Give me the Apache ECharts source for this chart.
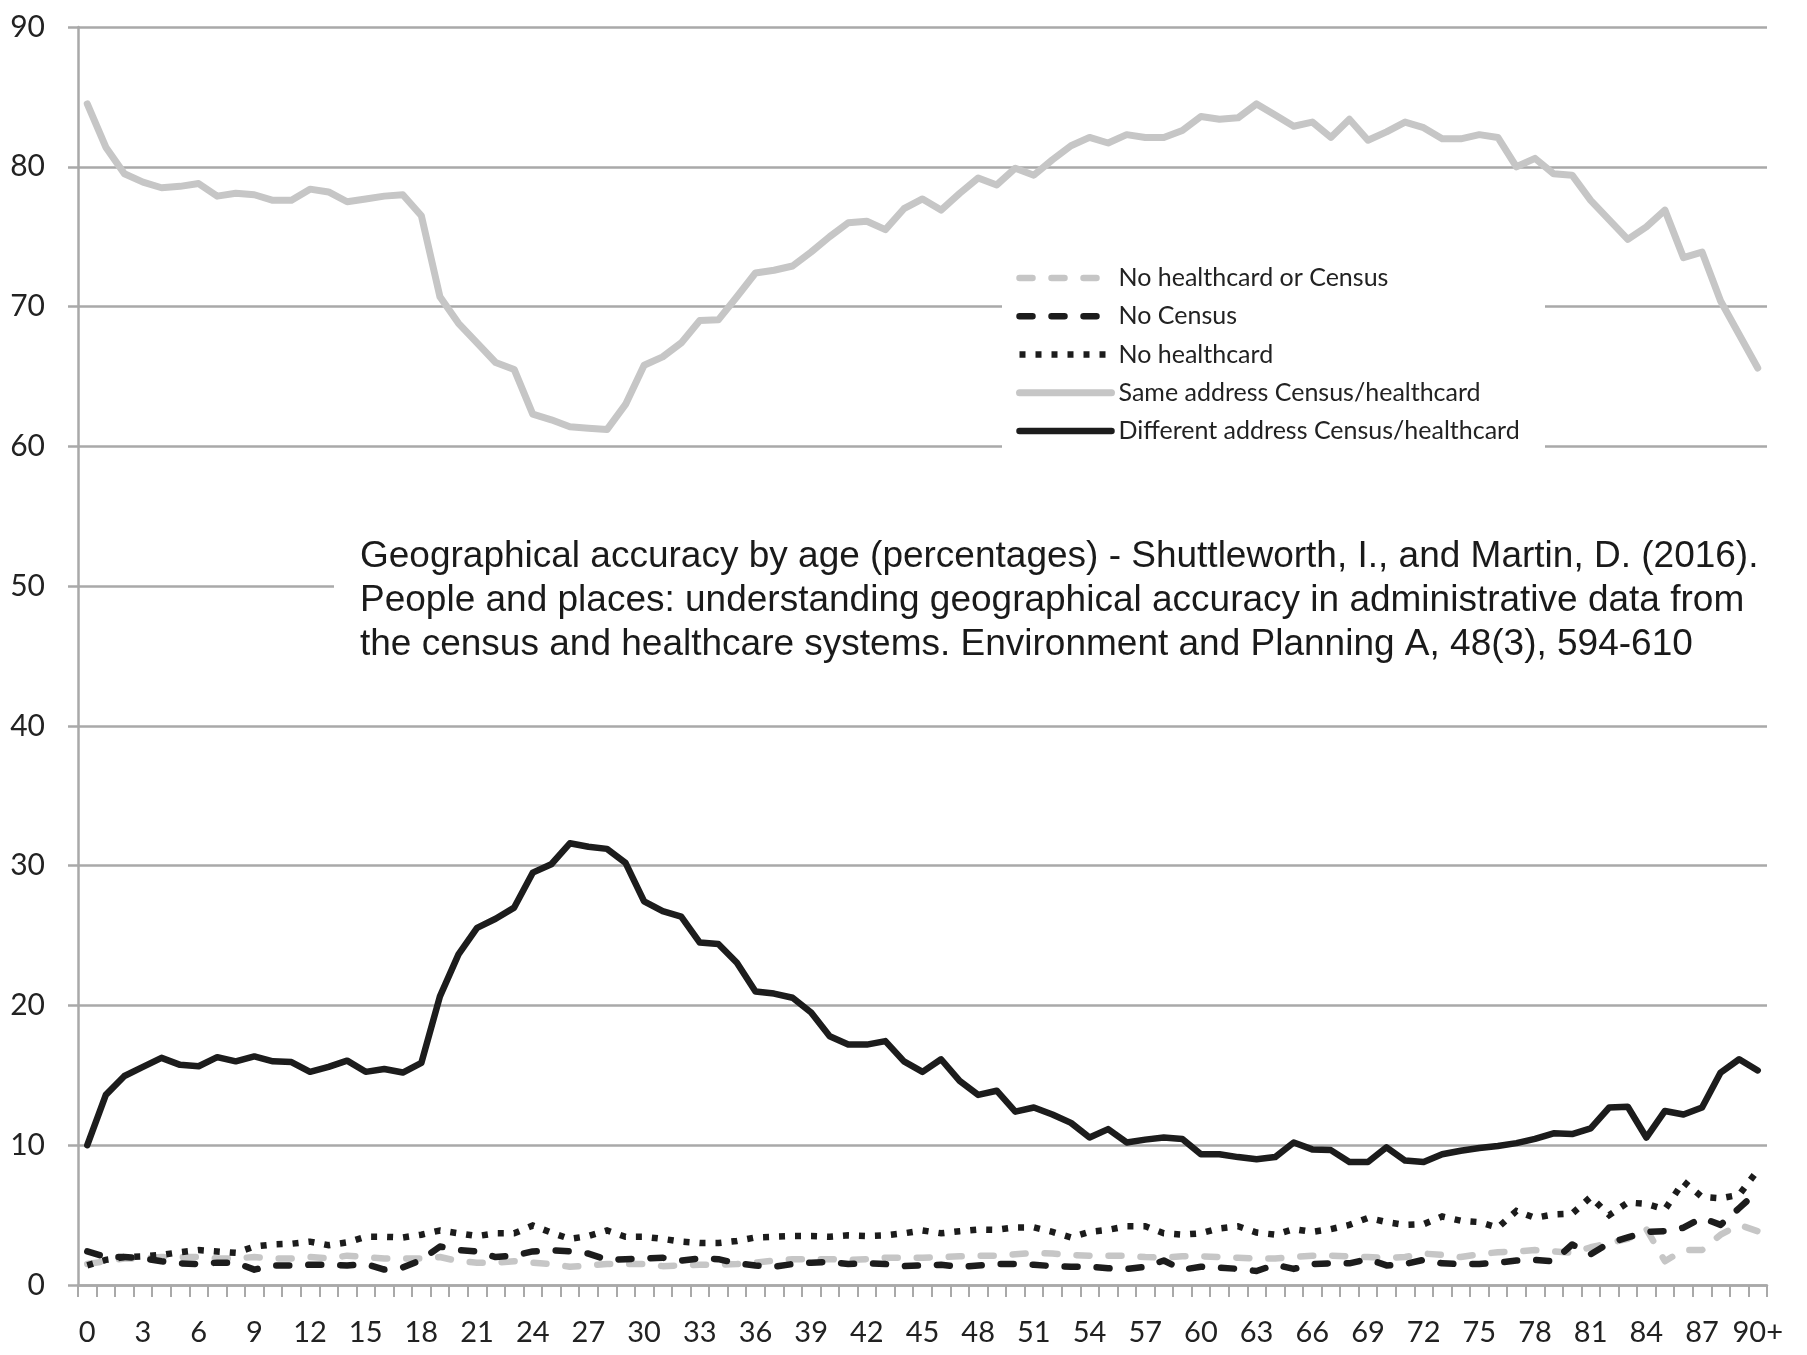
<!DOCTYPE html>
<html>
<head>
<meta charset="utf-8">
<script src="https://cdn.jsdelivr.net/npm/echarts@6/dist/echarts.min.js"></script>
<style>
html,body{margin:0;padding:0;background:#fff;}
#chart{width:1807px;height:1355px;}
</style>
</head>
<body>
<div id="chart"></div>
<script>
var ages = ['0','1','2','3','4','5','6','7','8','9','10','11','12','13','14','15','16','17','18','19',
'20','21','22','23','24','25','26','27','28','29','30','31','32','33','34','35','36','37','38','39',
'40','41','42','43','44','45','46','47','48','49','50','51','52','53','54','55','56','57','58','59',
'60','61','62','63','64','65','66','67','68','69','70','71','72','73','74','75','76','77','78','79',
'80','81','82','83','84','85','86','87','88','89','90+'];

var yTicks = [0, 10, 20, 30, 40, 50, 60, 70, 80, 90];

var noHealthcardOrCensus = [1.5,1.7,1.9,1.9,2.0,2.0,2.0,1.9,1.9,2.0,1.9,1.9,2.0,1.9,2.1,2.0,1.9,1.9,1.9,2.0,
1.7,1.6,1.6,1.7,1.6,1.5,1.3,1.4,1.5,1.5,1.5,1.35,1.4,1.45,1.45,1.5,1.6,1.75,1.85,1.85,
1.85,1.8,1.85,1.95,1.95,1.95,2.0,2.05,2.1,2.1,2.2,2.3,2.25,2.15,2.1,2.1,2.1,2.0,1.95,2.05,
2.05,2.0,1.95,1.9,1.9,2.0,2.1,2.1,2.05,2.0,1.95,2.0,2.25,2.15,2.0,2.2,2.35,2.4,2.5,2.4,
2.3,2.7,3.0,3.3,4.0,1.7,2.5,2.5,3.6,4.3,3.85];

var noCensus = [2.4,2.0,2.0,1.9,1.7,1.55,1.5,1.6,1.6,1.1,1.4,1.4,1.45,1.45,1.4,1.5,1.1,1.25,1.8,2.75,
2.5,2.4,2.0,2.1,2.4,2.5,2.4,2.25,1.8,1.85,1.9,1.95,1.75,1.9,1.85,1.55,1.4,1.3,1.5,1.6,
1.65,1.5,1.55,1.5,1.35,1.4,1.45,1.3,1.4,1.5,1.5,1.45,1.35,1.3,1.3,1.2,1.15,1.3,1.75,1.1,
1.3,1.25,1.15,1.0,1.45,1.15,1.5,1.55,1.55,1.85,1.4,1.5,1.8,1.55,1.5,1.5,1.6,1.75,1.8,1.7,
2.9,2.2,3.0,3.4,3.8,3.85,4.1,4.8,4.3,5.5,6.7];

var noHealthcard = [1.4,1.8,2.0,2.05,2.15,2.35,2.5,2.4,2.3,2.75,2.9,2.95,3.1,2.85,3.05,3.45,3.45,3.4,3.6,3.9,
3.7,3.5,3.7,3.7,4.25,3.75,3.3,3.5,3.9,3.45,3.45,3.3,3.1,3.0,3.0,3.15,3.4,3.45,3.5,3.5,
3.45,3.55,3.5,3.55,3.7,3.9,3.7,3.85,3.97,3.95,4.12,4.12,3.8,3.4,3.8,3.95,4.2,4.2,3.7,3.6,
3.7,4.05,4.2,3.75,3.6,4.0,3.8,4.0,4.3,4.8,4.5,4.3,4.35,4.9,4.6,4.5,4.1,5.3,4.8,5.05,
5.1,6.3,5.0,5.9,5.8,5.4,7.4,6.3,6.2,6.45,8.2];

var sameAddress = [84.5,81.4,79.5,78.9,78.5,78.6,78.8,77.9,78.1,78.0,77.6,77.6,78.4,78.2,77.5,77.7,77.9,78.0,76.5,70.7,
68.8,67.4,66.0,65.5,62.3,61.9,61.4,61.3,61.2,63.0,65.8,66.4,67.4,69.0,69.05,70.7,72.4,72.6,72.9,73.9,
75.0,76.0,76.1,75.5,77.0,77.7,76.9,78.1,79.2,78.7,79.9,79.4,80.5,81.5,82.1,81.7,82.3,82.1,82.1,82.6,
83.6,83.4,83.5,84.5,83.7,82.9,83.2,82.1,83.4,81.9,82.5,83.2,82.8,82.0,82.0,82.3,82.1,80.0,80.6,79.5,
79.4,77.6,76.2,74.8,75.7,76.9,73.5,73.9,70.4,68.0,65.6];

var differentAddress = [10.0,13.6,14.95,15.6,16.25,15.75,15.65,16.3,16.0,16.35,16.0,15.95,15.25,15.6,16.05,15.25,15.45,15.2,15.9,20.65,
23.65,25.55,26.2,27.0,29.5,30.1,31.6,31.35,31.2,30.2,27.45,26.75,26.35,24.5,24.4,23.05,21.0,20.85,20.55,19.5,
17.8,17.2,17.2,17.45,16.0,15.25,16.15,14.6,13.6,13.9,12.4,12.7,12.2,11.6,10.55,11.15,10.2,10.4,10.55,10.45,
9.35,9.35,9.15,9.0,9.15,10.2,9.7,9.65,8.8,8.8,9.85,8.9,8.8,9.35,9.6,9.8,9.95,10.15,10.45,10.85,
10.8,11.2,12.7,12.75,10.55,12.45,12.2,12.7,15.2,16.15,15.35];

var seriesNames = ['No healthcard or Census','No Census','No healthcard','Same address Census/healthcard','Different address Census/healthcard'];

var noteLines = [
  'Geographical accuracy by age (percentages) - Shuttleworth, I., and Martin, D. (2016).',
  'People and places: understanding geographical accuracy in administrative data from',
  'the census and healthcare systems. Environment and Planning A, 48(3), 594-610'
];

var BLACK = '#1c1c1c', LIGHT = '#c6c6c6', GRID = '#a9a9a9', LABEL = '#222222';
var UIFONT = 'Lato, "Open Sans", sans-serif';

var styles = [
  {color: LIGHT, width: 6.5, type: [13, 19], cap: 'round', join: 'round'},
  {color: BLACK, width: 6.5, type: [13, 19], cap: 'round', join: 'round'},
  {color: BLACK, width: 6.5, type: [6, 10], cap: 'butt', join: 'miter'},
  {color: LIGHT, width: 7, type: 'solid', cap: 'round', join: 'round'},
  {color: BLACK, width: 6.5, type: 'solid', cap: 'round', join: 'round'}
];
var values = [noHealthcardOrCensus, noCensus, noHealthcard, sameAddress, differentAddress];

var series = seriesNames.map(function (name, i) {
  var s = styles[i];
  return {
    name: name,
    type: 'line',
    data: values[i],
    symbol: 'none',
    silent: true,
    animation: false,
    z: 2,
    lineStyle: {color: s.color, width: s.width, type: s.type, cap: s.cap, join: s.join},
    itemStyle: {color: s.color}
  };
});

var legendData = seriesNames.map(function (name, i) {
  var s = styles[i];
  return {
    name: name,
    itemStyle: {color: 'rgba(0,0,0,0)', borderWidth: 0, opacity: 0},
    lineStyle: {color: s.color, width: s.width, type: s.type, cap: s.cap, join: s.join, opacity: 1}
  };
});

var chart = echarts.init(document.getElementById('chart'), null, {renderer: 'canvas'});
chart.setOption({
  backgroundColor: '#ffffff',
  animation: false,
  grid: {left: 78, right: 40, top: 27, bottom: 70, containLabel: false},
  xAxis: {
    type: 'category',
    data: ages,
    boundaryGap: true,
    axisLine: {show: true, lineStyle: {color: GRID, width: 2.5}},
    axisTick: {show: true, interval: 0, length: 12, lineStyle: {color: GRID, width: 2}},
    axisLabel: {interval: 2, color: LABEL, fontFamily: UIFONT, fontSize: 29, margin: 33},
    splitLine: {show: false}
  },
  yAxis: {
    type: 'value',
    min: yTicks[0],
    max: yTicks[yTicks.length - 1],
    interval: 10,
    axisLine: {show: true, lineStyle: {color: GRID, width: 2.5}},
    axisTick: {show: true, length: 10, lineStyle: {color: GRID, width: 2.5}},
    axisLabel: {color: LABEL, fontFamily: UIFONT, fontSize: 30, margin: 33},
    splitLine: {show: true, lineStyle: {color: GRID, width: 2.5}}
  },
  legend: {
    orient: 'vertical',
    left: 1016,
    top: 263,
    padding: 0,
    itemWidth: 92,
    itemHeight: 14,
    itemGap: 8.25,
    z: 6,
    selectedMode: false,
    data: legendData,
    textStyle: {color: LABEL, fontFamily: UIFONT, fontSize: 25, lineHeight: 30, padding: [0, 0, 0, 2]}
  },
  graphic: [
    {type: 'rect', z: 3, silent: true, shape: {x: 1002, y: 252, width: 543, height: 206}, style: {fill: '#ffffff'}},
    {type: 'rect', z: 3, silent: true, shape: {x: 334, y: 528, width: 1456, height: 140}, style: {fill: '#ffffff'}},
    {type: 'text', z: 5, silent: true, left: 360, top: 535,
      style: {text: noteLines.join('\n'), fill: '#1a1a1a', font: '37px "Liberation Sans", Arial, sans-serif', lineHeight: 44}}
  ],
  series: series
});
</script>
</body>
</html>
